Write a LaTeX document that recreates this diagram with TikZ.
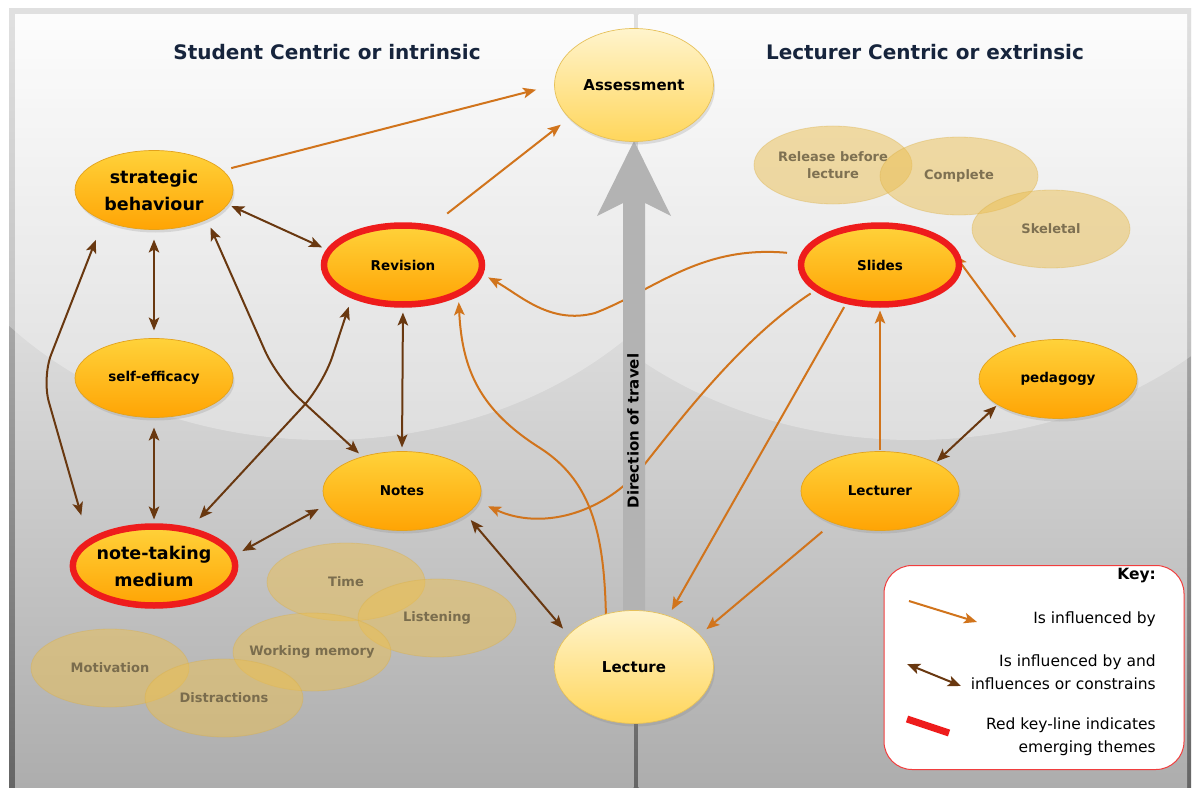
\documentclass[tikz,border=0pt]{standalone}
\usepackage{fontspec}
\setmainfont{DejaVu Sans}
\usetikzlibrary{arrows.meta,shapes.geometric,shadows}
\definecolor{orarc}{HTML}{D1741C}
\definecolor{brarc}{HTML}{693810}
\definecolor{keyred}{HTML}{EE1C1C}
\definecolor{elTop}{HTML}{FFD23A}
\definecolor{elBot}{HTML}{FFA404}
\definecolor{elBorder}{HTML}{E3A21C}
\definecolor{paleTop}{HTML}{FFF4CC}
\definecolor{paleBot}{HTML}{FFD65C}
\definecolor{paleBorder}{HTML}{E6C15A}
\definecolor{fadeC}{HTML}{EBBF52}
\definecolor{fadeB}{HTML}{D9AE45}
\definecolor{fadeT}{HTML}{6B5F44}
\definecolor{titleC}{HTML}{16243C}
\definecolor{shaftC}{HTML}{B3B3B3}
\definecolor{frameTop}{HTML}{D4D4D4}
\definecolor{frameBot}{HTML}{656565}
\definecolor{panelTop}{HTML}{FCFCFC}
\definecolor{panelBot}{HTML}{ADADAD}
\pgfdeclarelayer{bglayer}
\pgfdeclarelayer{connlayer}
\pgfdeclarelayer{shaftlayer}
\pgfsetlayers{bglayer,connlayer,shaftlayer,main}
\begin{document}
\begin{tikzpicture}[x=1pt,y=-1pt,
  mainel/.style={ellipse, minimum width=158pt, minimum height=79pt, inner sep=0pt, outer sep=0pt,
     top color=elTop, bottom color=elBot, draw=elBorder, line width=0.7pt, align=center,
     font=\bfseries\fontsize{13.5}{16}\selectfont,
     drop shadow={shadow xshift=1.5pt, shadow yshift=-3pt, opacity=0.22}},
  bigtext/.style={font=\bfseries\fontsize{17.5}{27}\selectfont},
  paleel/.style={mainel, minimum width=159pt, minimum height=113pt, top color=paleTop, bottom color=paleBot, draw=paleBorder, font=\bfseries\fontsize{15}{18}\selectfont},
  redring/.style={draw=keyred, line width=6.5pt},
  fadedel/.style={ellipse, minimum width=158pt, minimum height=78pt, inner sep=0pt, outer sep=0pt, fill=fadeC, fill opacity=0.5, draw=fadeB, draw opacity=0.35, line width=0.8pt, text opacity=0.85, text=fadeT, align=center, font=\bfseries\fontsize{13}{17}\selectfont},
  orline/.style={draw=orarc, line width=2pt, -{Stealth[length=13pt,width=10.5pt,inset=3pt]}},
  brline/.style={draw=brarc, line width=2pt, {Stealth[length=13pt,width=10.5pt,inset=3pt]}-{Stealth[length=13pt,width=10.5pt,inset=3pt]}},
  titletext/.style={font=\bfseries\fontsize{20}{24}\selectfont, text=titleC},
  keytext/.style={font=\fontsize{15.5}{23}\selectfont, align=right, anchor=east, inner sep=0pt},
]
\useasboundingbox (0,0) rectangle (1197,789);
% ---------- background ----------
\begin{pgfonlayer}{bglayer}
\fill[white] (0,0) rectangle (1197,789);
\shade[top color=frameTop, bottom color=frameBot] (9,9) rectangle (1191,787);
\shade[top color=panelTop, bottom color=panelBot] (15,15) rectangle (633.5,787);
\shade[top color=panelTop, bottom color=panelBot] (638.5,15) rectangle (1187,787);
\begin{scope}
\clip (9,9) rectangle (636,787);
\fill[white, opacity=0.3] (325,105) ellipse [x radius=420, y radius=335];
\end{scope}
\begin{scope}
\clip (636,9) rectangle (1191,787);
\fill[white, opacity=0.3] (913,105) ellipse [x radius=420, y radius=335];
\end{scope}
\end{pgfonlayer}
% ---------- titles ----------
\node[titletext] (t1) at (327,52) {Student Centric or intrinsic};
\node[titletext] (t2) at (925,52) {Lecturer Centric or extrinsic};
% ---------- faded ellipses ----------
\node[fadedel] (rel) at (833,165) {Release before\\lecture};
\node[fadedel] (comp) at (959,176) {Complete};
\node[fadedel] (skel) at (1051,229) {Skeletal};
\node[fadedel] (time) at (346,582) {Time};
\node[fadedel] (listen) at (437,618) {Listening};
\node[fadedel, inner xsep=-20pt] (wm) at (312,652) {Working memory};
\node[fadedel] (mot) at (110,668) {Motivation};
\node[fadedel] (dist) at (224,698) {Distractions};
% ---------- main nodes ----------
\node[paleel] (as) at (634,85) {Assessment};
\node[mainel, bigtext] (sb) at (154,190) {strategic\\behaviour};
\node[mainel, redring] (rev) at (403,265) {Revision};
\node[mainel] (se) at (154,378) {self-efficacy};
\node[mainel] (notes) at (402,491) {Notes};
\node[mainel, redring, bigtext] (ntm) at (154,566) {note-taking\\medium};
\node[paleel] (lec) at (634,667) {Lecture};
\node[mainel, redring] (sl) at (880,265) {Slides};
\node[mainel] (ped) at (1058,379) {pedagogy};
\node[mainel] (lecr) at (880,491) {Lecturer};
% ---------- direction of travel ----------
\begin{pgfonlayer}{shaftlayer}
\fill[shaftC] (634,141) -- (671,216) -- (645,203) -- (645,640) -- (623,640) -- (623,203) -- (597,216) -- cycle;
\node[rotate=90, font=\bfseries\fontsize{15}{18}\selectfont] (dir) at (633,431) {Direction of travel};
\end{pgfonlayer}
% ---------- connectors ----------
\begin{pgfonlayer}{connlayer}
% influenced by
\draw[orline, shorten <=9pt, shorten >=19pt] (sb.16) -- (as.180);
\draw[orline, shorten <=23pt, shorten >=11pt] (rev.55) -- (as.207);
\draw[orline, shorten <=17pt, shorten >=9pt] (sl.172) .. controls (700,245) and (655,290) .. (595,313) .. controls (550,325) and (520,295) .. (rev.-6);
\draw[orline, shorten <=8pt, shorten >=11pt] (sl.201) .. controls (740,340) and (680,420) .. (640,470) .. controls (600,515) and (540,530) .. (notes.-8);
\draw[orline, shorten <=7pt, shorten >=7pt] (sl.228) -- (lec.56);
\draw[orline, shorten <=2pt, shorten >=6pt] (lecr.90) -- (sl.-90);
\draw[orline, shorten <=9pt, shorten >=14pt] (ped.137) -- (sl.18);
\draw[orline, shorten <=14pt, shorten >=9pt] (lecr.214) -- (lec.26);
\draw[orline, shorten >=9pt] (lec.118) .. controls (604,530) and (590,480) .. (540,448) .. controls (480,410) and (462,370) .. (rev.-27);
% influences both ways
\draw[brline, shorten <=4pt, shorten >=8pt] (sb.-11) -- (rev.169);
\draw[brline, shorten <=10pt, shorten >=8pt] (sb.-90) -- (se.90);
\draw[brline, shorten <=10pt, shorten >=7pt] (se.-90) -- (ntm.90);
\draw[brline, rounded corners=25pt, shorten <=28pt, shorten >=21pt] (ntm.160) -- (42,378) -- (sb.211);
\draw[brline, rounded corners=30pt, shorten <=9pt, shorten >=5pt] (sb.-29) -- (277,378) -- (notes.139);
\draw[brline, rounded corners=30pt, shorten <=12pt, shorten >=16pt] (rev.211) -- (323,385) -- (ntm.46);
\draw[brline, shorten <=8pt, shorten >=4pt] (rev.-90) -- (notes.90);
\draw[brline, shorten <=11pt, shorten >=10pt] (ntm.7) -- (notes.190);
\draw[brline, shorten <=7.5pt, shorten >=8.5pt] (notes.-20) -- (lec.154);
\draw[brline, shorten <=2pt, shorten >=2pt] (ped.203) -- (lecr.27);
\end{pgfonlayer}
% ---------- key ----------
\node[draw=keyred!85, line width=1pt, fill=white, rounded corners=28pt, minimum width=300pt, minimum height=204pt, inner sep=0pt] (keybox) at (1034,667.5) {};
\node[keytext, font=\bfseries\fontsize{15.5}{23}\selectfont] (k0) at (1156,576) {Key:};
\coordinate (k1a) at (909,601);
\coordinate (k1b) at (977,622);
\draw[orline] (k1a) -- (k1b);
\node[keytext] (k1) at (1156,619) {Is influenced by};
\coordinate (k2a) at (907,664);
\coordinate (k2b) at (961,686);
\draw[brline] (k2a) -- (k2b);
\node[keytext] (k2) at (1156,672.5) {Is influenced by and\\influences or constrains};
\coordinate (k3a) at (907,719);
\coordinate (k3b) at (949,733);
\draw[keyred, line width=7pt] (k3a) -- (k3b);
\node[keytext] (k3) at (1156,737) {Red key-line indicates\\emerging themes};
\end{tikzpicture}
\end{document}
